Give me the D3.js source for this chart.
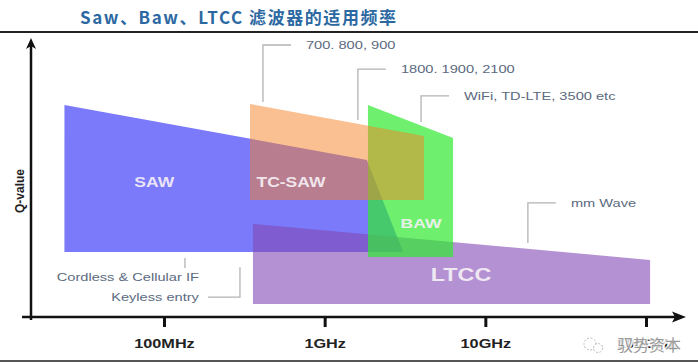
<!DOCTYPE html>
<html>
<head>
<meta charset="utf-8">
<script src="https://cdnjs.cloudflare.com/ajax/libs/d3/7.8.5/d3.min.js"></script>
<style>
  html, body { margin: 0; padding: 0; background: #fff; }
  svg { display: block; }
</style>
</head>
<body>
<script>
"use strict";
// frequencies in MHz, Q on an arbitrary 0-10 scale
var sawFreq = [24, 1830, 3080, 24];
var sawQ = [7.65, 5.67, 2.35, 2.35];
var tcSawFreq = [343, 4150, 4150, 343];
var tcSawQ = [7.69, 6.53, 4.22, 4.22];
var ltccFreq = [358, 106000, 106000, 358];
var ltccQ = [3.36, 2.06, 0.47, 0.47];
var bawFreq = [1860, 6300, 6300, 1860];
var bawQ = [7.65, 6.46, 2.17, 2.17];

var bandNames = ["SAW", "TC-SAW", "BAW", "LTCC"];
var bandLabelFreq = [87, 617, 3980, 7060];
var bandLabelQ = [4.87, 4.87, 3.39, 1.55];

var tickFreq = [100, 1000, 10000, 100000];
var tickLabels = ["100MHz", "1GHz", "10GHz", "100GHz"];

var calloutText = ["700. 800, 900", "1800. 1900, 2100", "WiFi, TD-LTE, 3500 etc", "mm Wave"];
var calloutFreq = [413, 1610, 3980, 18400];
var calloutFromQ = [7.76, 7.11, 7.04, 2.67];
var calloutToQ = [9.82, 8.95, 7.98, 4.12];

var noteText = ["Cordless & Cellular IF", "Keyless entry"];
var noteQ = [1.44, 0.72];
var noteEndFreq = 165;
var cordlessFreq = 135, cordlessQ = [2.13, 1.77];
var keylessFreq = 297, keylessTopQ = 1.8;

var W = 698, H = 363;
var latin = "'Liberation Sans', Arial, sans-serif";

var svg = d3.select("body").append("svg").attr("width", W).attr("height", H);
svg.append("rect").attr("width", W).attr("height", H).attr("fill", "#fff");

var x = d3.scaleLog().domain([100, 100000]).range([164, 646]);
var y = d3.scaleLinear().domain([0, 10]).range([317, 40]);

// title + rules
svg.append("text")
  .attr("x", 80).attr("y", 24)
  .attr("textLength", 316).attr("lengthAdjust", "spacing")
  .style("font-family", "'Noto Sans CJK SC', sans-serif")
  .style("font-weight", "bold").style("font-size", "17px")
  .attr("fill", "#2c69a2")
  .text("Saw、Baw、LTCC 滤波器的适用频率");
svg.append("rect").attr("x", 0).attr("y", 31).attr("width", W).attr("height", 2).attr("fill", "#222");
svg.append("rect").attr("x", 0).attr("y", 360).attr("width", W).attr("height", 2).attr("fill", "#555");

function pts(fs, qs) {
  return fs.map(function (f, i) { return [x(f), y(qs[i])]; });
}
var line = d3.line();

var bands = [
  { p: pts(sawFreq, sawQ), fill: "rgb(122,122,250)", op: 1 },
  { p: pts(ltccFreq, ltccQ), fill: "rgb(130,72,180)", op: 0.6 },
  { p: pts(bawFreq, bawQ), fill: "rgb(48,234,48)", op: 0.7 },
  { p: pts(tcSawFreq, tcSawQ), fill: "rgb(245,129,35)", op: 0.5 }
];
svg.append("g").selectAll("path").data(bands).enter().append("path")
  .attr("d", function (d) { return line(d.p) + "Z"; })
  .attr("fill", function (d) { return d.fill; })
  .attr("fill-opacity", function (d) { return d.op; });

// stretched text helper
function wideText(g, px, py, txt, size, sx, anchor, weight, color) {
  return g.append("text")
    .attr("transform", "translate(" + px + "," + py + ") scale(" + sx + ",1)")
    .attr("text-anchor", anchor)
    .attr("dominant-baseline", "central")
    .style("font-family", latin)
    .style("font-size", size + "px")
    .style("font-weight", weight)
    .attr("fill", color)
    .text(txt);
}

var labelG = svg.append("g");
var labelSize = [14, 14, 13, 18];
var labelScale = [1.25, 1.25, 1.35, 1.3];
bandNames.forEach(function (n, i) {
  wideText(labelG, x(bandLabelFreq[i]), y(bandLabelQ[i]), n, labelSize[i], labelScale[i], "middle", "bold", "#f6f0f6")
    .attr("fill-opacity", 0.92);
});

// callouts
var callG = svg.append("g");
var noteColor = "#5b6a80", leaderColor = "#b3b3b3";
calloutText.forEach(function (t, i) {
  var cx = x(calloutFreq[i]);
  callG.append("path")
    .attr("d", line([[cx, y(calloutFromQ[i])], [cx, y(calloutToQ[i])], [cx + 28, y(calloutToQ[i])]]))
    .attr("fill", "none").attr("stroke", leaderColor).attr("stroke-width", 1.3);
  wideText(callG, cx + 43, y(calloutToQ[i]), t, 11, 1.33, "start", "normal", noteColor);
});

noteText.forEach(function (t, i) {
  wideText(callG, x(noteEndFreq), y(noteQ[i]), t, 11, 1.33, "end", "normal", noteColor);
});
callG.append("path")
  .attr("d", line([[x(cordlessFreq), y(cordlessQ[0])], [x(cordlessFreq), y(cordlessQ[1])]]))
  .attr("stroke", leaderColor).attr("stroke-width", 1.3);
callG.append("path")
  .attr("d", line([[x(noteEndFreq) + 9, y(noteQ[1])], [x(keylessFreq), y(noteQ[1])], [x(keylessFreq), y(keylessTopQ)]]))
  .attr("fill", "none").attr("stroke", leaderColor).attr("stroke-width", 1.3);

// axes
var axG = svg.append("g").attr("transform", "translate(0," + y(0) + ")")
  .call(d3.axisBottom(x).tickValues(tickFreq)
    .tickFormat(function (d, i) { return tickLabels[i]; })
    .tickSize(10).tickPadding(11.5));
axG.select(".domain").remove();
axG.selectAll(".tick line").attr("stroke", "#111").attr("stroke-width", 3);
axG.selectAll(".tick text")
  .attr("transform", "scale(1.25,1)")
  .style("font-family", latin).style("font-size", "13px").style("font-weight", "bold")
  .attr("fill", "#222");

svg.append("path").attr("d", line([[22, y(0)], [676, y(0)]]))
  .attr("stroke", "#111").attr("stroke-width", 2.5);
svg.append("path").attr("d", "M686," + y(0) + "L672," + (y(0) - 5.5) + "L675," + y(0) + "L672," + (y(0) + 5.5) + "Z")
  .attr("fill", "#111");
svg.append("path").attr("d", line([[31, y(0) + 3], [31, 46]]))
  .attr("stroke", "#111").attr("stroke-width", 2.5);
svg.append("path").attr("d", "M31,38L26,49L31,46L36,49Z").attr("fill", "#111");

svg.append("text")
  .attr("transform", "translate(20,191) rotate(-90)")
  .attr("text-anchor", "middle").attr("dominant-baseline", "central")
  .style("font-family", latin).style("font-size", "12px").style("font-weight", "bold")
  .attr("fill", "#222").text("Q-value");

// watermark
var wm = svg.append("g");
wm.append("circle").attr("cx", 590).attr("cy", 344).attr("r", 6)
  .attr("fill", "#fff").attr("stroke", "#bbb").attr("stroke-dasharray", "2,1.5");
wm.append("circle").attr("cx", 598).attr("cy", 348).attr("r", 4.5)
  .attr("fill", "#fff").attr("stroke", "#bbb").attr("stroke-dasharray", "2,1.5");
wm.append("text").attr("x", 617).attr("y", 344).attr("dominant-baseline", "central")
  .style("font-family", "'Noto Sans CJK SC', sans-serif").style("font-size", "16px")
  .attr("fill", "#999").attr("stroke", "#fff").attr("stroke-width", 3)
  .style("paint-order", "stroke").attr("stroke-opacity", 0.85)
  .text("驭势资本");
</script>
</body>
</html>
